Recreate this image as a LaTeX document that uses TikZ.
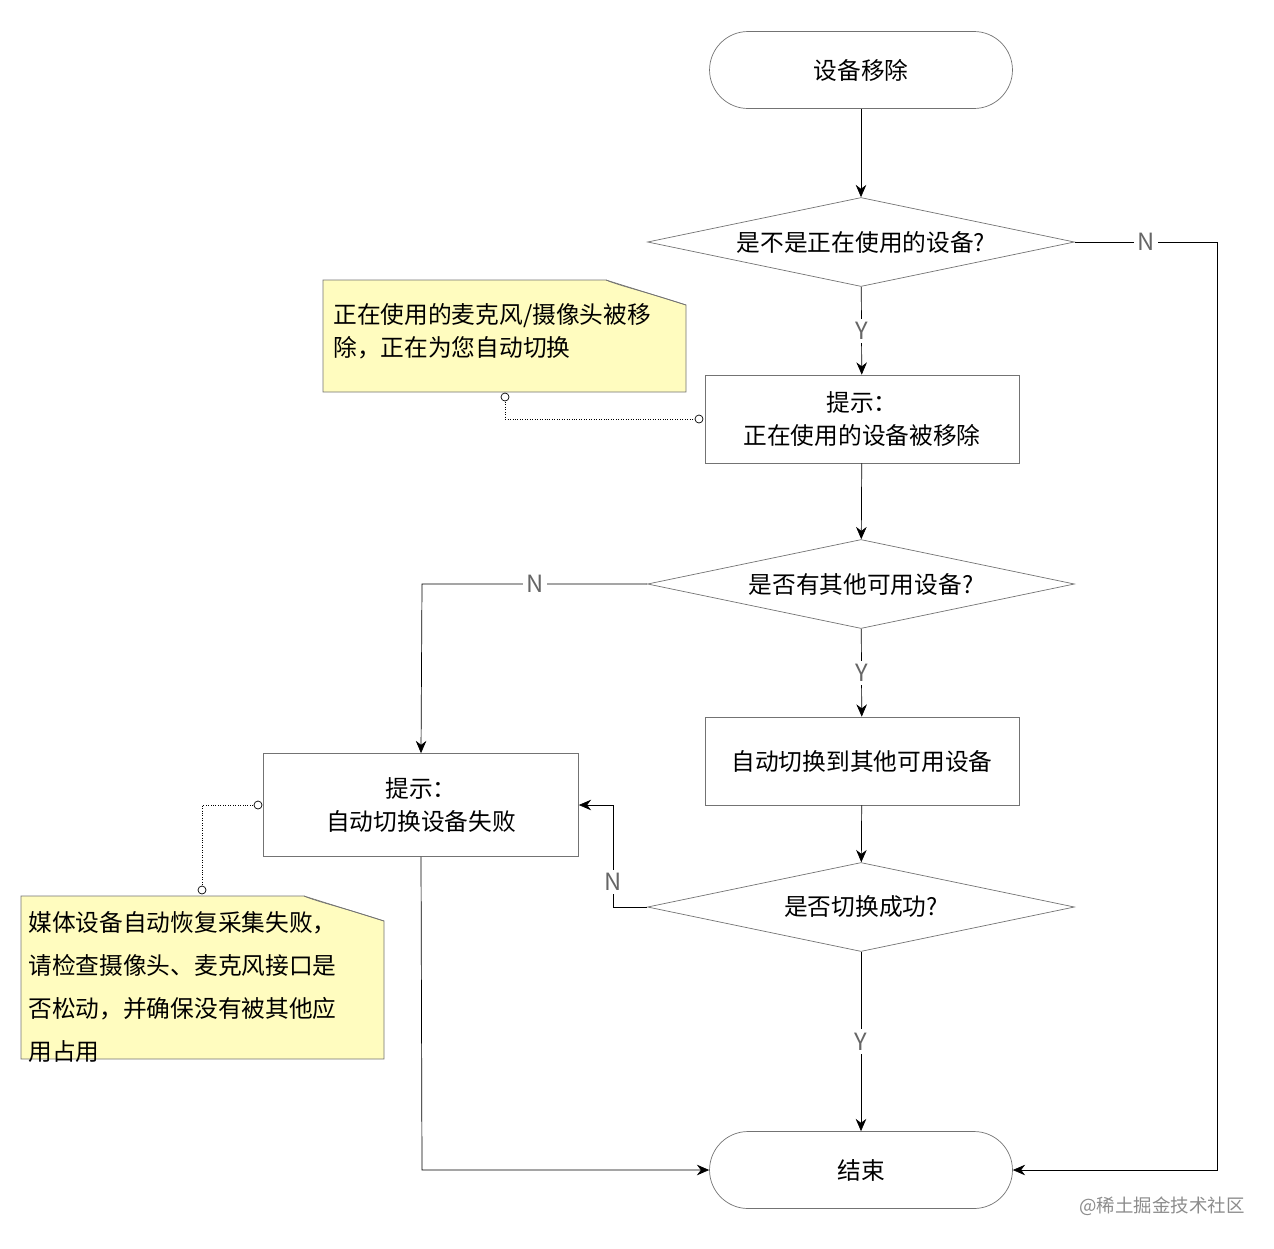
\documentclass[tikz,border=0pt]{standalone}
\usepackage{fontspec}
\setmainfont{Noto Sans CJK SC}
\usetikzlibrary{shapes.geometric,arrows.meta}
\begin{document}
\begin{tikzpicture}[x=0.02cm,y=-0.02cm,
  every node/.style={font=\fontsize{13.5pt}{19pt}\selectfont},
  term/.style={draw=black!55,rounded corners=0.77cm,minimum width=6.06cm,minimum height=1.54cm,inner sep=0},
  box/.style={draw=black!55,minimum width=6.28cm,minimum height=1.76cm,align=center,inner sep=0},
  dia/.style={draw=black!55,diamond,aspect=4.8,minimum width=8.54cm,minimum height=1.78cm,inner sep=0},
  lbl/.style={fill=white,text=black!60,inner sep=2pt},
  arr/.style={-{Stealth[length=7pt,width=6pt]},black},
  ln/.style={black},
  note/.style={draw=black!55,fill=yellow!25!white},
  dot/.style={densely dotted,black}]
\useasboundingbox (0,0) rectangle (1274,1248);
\node[term] (start) at (861,70) {设备移除};
\node[dia] (d1) at (861,242) {是不是正在使用的设备?};
\node[box] (b1) at (862,419) {提示：\\正在使用的设备被移除};
\node[dia] (d2) at (861,584) {是否有其他可用设备?};
\node[box] (b3) at (862,761) {自动切换到其他可用设备};
\node[dia] (d3) at (861,907) {是否切换成功?};
\node[box,minimum width=6.3cm,minimum height=2.06cm] (b2) at (421,805) {提示：\\自动切换设备失败};
\node[term] (end) at (861,1170) {结束};
% notes
\draw[note] (323,280) -- (606,280) -- (686,305) -- (686,392) -- (323,392) -- cycle;
\draw[black!55] (606,280) .. controls (620,286) and (640,290) .. (686,305);
\node[anchor=north west,align=left,inner sep=0] (n1) at (333,303) {正在使用的麦克风/摄像头被移\\除，正在为您自动切换};
\draw[note] (21,896) -- (304,896) -- (384,921) -- (384,1059) -- (21,1059) -- cycle;
\draw[black!55] (304,896) .. controls (318,902) and (338,906) .. (384,921);
\node[anchor=north west,align=left,inner sep=0,font=\fontsize{13.5pt}{24.5pt}\selectfont] (n2) at (28,911) {媒体设备自动恢复采集失败，\\请检查摄像头、麦克风接口是\\否松动，并确保没有被其他应\\用占用};
\coordinate (c1) at (505,397);
\coordinate (c2) at (699,419);
\draw[dot] (c1) |- (c2);
\draw[fill=white] (c1) circle (4); \draw[fill=white] (c2) circle (4);
\coordinate (c3) at (258,805);
\coordinate (c4) at (202,890);
\draw[dot] (c3) -| (c4);
\draw[fill=white] (c3) circle (4); \draw[fill=white] (c4) circle (4);
% connectors
\draw[arr] (start) -- (d1);
\draw[arr] (d1) -- node[lbl]{Y} (b1);
\coordinate (r1) at (1217,242);
\draw[arr] (d1.east) -- node[lbl,pos=0.5]{N} (r1) |- (end.east);
\draw[arr] (b1) -- (d2);
\draw[arr] (d2) -- node[lbl]{Y} (b3);
\coordinate (l1) at (422,584);
\draw[arr] (d2.west) -- node[lbl,pos=0.5]{N} (l1) -- (b2.north);
\draw[arr] (b3) -- (d3);
\draw[arr] (d3) -- node[lbl]{Y} (end);
\coordinate (l2) at (613,805);
\draw[arr] (d3.west) -| (l2) -- (b2.east |- l2);
\node[lbl] at (613,882) {N};
\coordinate (l3) at (422,1170);
\draw[arr] (b2.south) -- (l3) -- (end.west);
\node[text=black!45,font=\fontsize{10.5pt}{12pt}\selectfont] at (1162,1206) {@稀土掘金技术社区};
\end{tikzpicture}
\end{document}
